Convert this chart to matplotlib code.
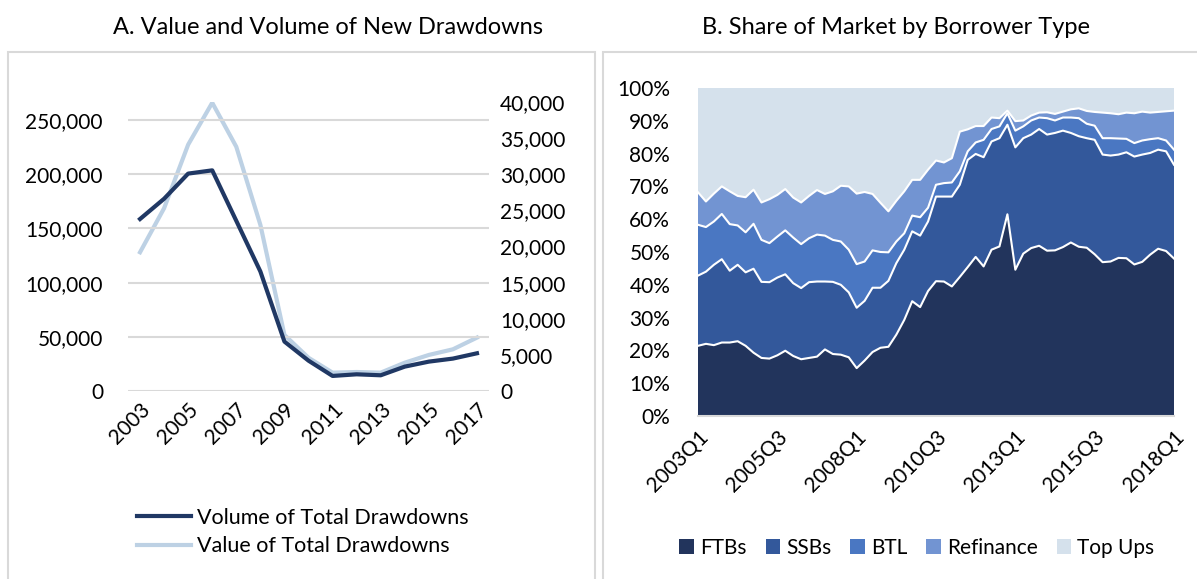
import matplotlib
matplotlib.use("Agg")
import matplotlib.pyplot as plt
import matplotlib.ticker as mticker
from matplotlib.patches import Rectangle
from matplotlib.lines import Line2D
import numpy as np

plt.rcParams["font.family"] = ["Lato", "DejaVu Sans"]

# Panel A : drawdowns par année
years = list(range(2003, 2018))
volume = [158700, 177400, 200600, 203600, 157000, 110300, 45600, 28000,
          13900, 15400, 14500, 22500, 27100, 29900, 34800]
value = [19200, 25300, 34100, 39900, 33800, 23000, 7760, 4600,
         2540, 2630, 2540, 3920, 4990, 5770, 7390]

# Panel B : parts de marché trimestrielles (2003Q1 - 2018Q1)
quarters = [f"{y}Q{q}" for y in range(2003, 2019) for q in range(1, 5)][:61]
ftb = [21.4, 22.0, 21.6, 22.4, 22.4, 22.8, 21.4, 19.3, 17.7, 17.5, 18.5, 19.9, 18.3, 17.3, 17.7, 18.1,
       20.3, 18.9, 18.7, 17.9, 14.6, 16.9, 19.5, 20.8, 21.1, 24.8, 29.3, 35.0, 33.2, 38.1, 41.1, 41.0,
       39.5, 42.4, 45.4, 48.5, 45.6, 50.7, 51.7, 61.5, 44.6, 49.5, 51.2, 51.9, 50.4, 50.5, 51.5, 52.9,
       51.6, 51.3, 49.3, 46.9, 47.1, 48.2, 48.1, 46.2, 47.0, 49.2, 51.0, 50.3, 48.0]
ssb = [21.4, 22.0, 24.5, 25.4, 21.9, 23.3, 22.4, 25.6, 23.2, 23.3, 23.7, 23.3, 22.2, 21.7, 23.1, 22.9,
       20.7, 22.0, 21.3, 19.8, 18.4, 18.2, 19.6, 18.3, 20.1, 21.8, 21.4, 21.3, 21.8, 21.2, 25.8, 25.9,
       27.4, 28.1, 32.7, 31.4, 33.3, 33.0, 33.0, 27.3, 37.3, 35.2, 34.6, 35.6, 35.4, 35.8, 35.5, 33.4,
       33.7, 33.4, 34.9, 32.8, 32.3, 31.5, 32.3, 32.9, 32.7, 31.0, 30.2, 30.4, 28.6]
btl = [15.5, 13.6, 13.2, 13.8, 14.2, 12.0, 12.2, 13.7, 12.8, 11.9, 12.5, 13.4, 13.9, 13.4, 13.4, 14.3,
       14.0, 12.8, 13.2, 13.0, 13.3, 12.0, 11.4, 10.9, 8.7, 6.6, 5.0, 4.8, 5.6, 4.2, 3.6, 4.1,
       4.3, 4.1, 2.6, 3.5, 5.3, 3.8, 3.6, 3.5, 5.1, 3.6, 4.3, 3.5, 5.0, 3.8, 4.0, 4.7,
       5.5, 4.4, 4.3, 5.0, 5.3, 4.9, 4.1, 4.1, 4.3, 4.2, 3.5, 3.3, 4.6]
refinance = [9.9, 7.8, 8.5, 8.4, 10.0, 9.0, 10.7, 10.4, 11.4, 13.4, 12.7, 12.6, 12.2, 12.7, 12.9, 13.6,
             12.7, 14.8, 17.0, 19.3, 21.5, 21.2, 17.2, 15.0, 12.5, 12.4, 12.8, 10.9, 11.4, 11.6, 7.4, 6.3,
             7.4, 12.1, 6.7, 5.0, 4.2, 3.5, 2.5, 0.8, 2.9, 1.8, 1.5, 1.5, 1.8, 2.0, 1.8, 2.5,
             3.0, 3.9, 4.2, 7.8, 7.6, 7.4, 8.0, 9.1, 8.8, 8.1, 8.0, 8.9, 11.9]
top_ups = [31.8, 34.6, 32.2, 30.0, 31.5, 32.9, 33.3, 31.0, 34.9, 33.9, 32.6, 30.8, 33.4, 34.9, 32.9, 31.1,
           32.3, 31.5, 29.8, 30.0, 32.2, 31.7, 32.3, 35.0, 37.6, 34.4, 31.5, 28.0, 28.0, 24.9, 22.1, 22.7,
           21.4, 13.3, 12.6, 11.6, 11.6, 9.0, 9.2, 6.9, 10.1, 9.9, 8.4, 7.5, 7.4, 7.9, 7.2, 6.5,
           6.2, 7.0, 7.3, 7.5, 7.7, 8.0, 7.5, 7.7, 7.2, 7.5, 7.3, 7.1, 6.9]

series_names = ["FTBs", "SSBs", "BTL", "Refinance", "Top Ups"]
series_colors = ["#22345c", "#33589b", "#4a77c2", "#7294d2", "#d5e1ec"]

fig = plt.figure(figsize=(11.97, 5.79), dpi=100, facecolor="white")

# Cadres des deux panneaux
for x0, w in [(8, 587), (603, 600)]:
    fig.patches.append(Rectangle((x0 / 1197, -0.01), w / 1197, (579 - 52) / 579 + 0.01,
                                 transform=fig.transFigure, fill=False,
                                 edgecolor="#d9d9d9", linewidth=1.5))

fig.text(328 / 1197, 1 - 28 / 579, "A. Value and Volume of New Drawdowns",
         ha="center", va="center", fontsize=17)
fig.text(896 / 1197, 1 - 28 / 579, "B. Share of Market by Borrower Type",
         ha="center", va="center", fontsize=17)

# Panel A
ax = fig.add_axes([128 / 1197, 188 / 579, 361 / 1197, 289 / 579])
ax2 = ax.twinx()
ax.plot(years, volume, color="#203864", linewidth=3, zorder=3)
ax2.plot(years, value, color="#bdd1e4", linewidth=3, zorder=2)
ax.set_zorder(ax2.get_zorder() + 1)
ax.patch.set_visible(False)
ax.set_xlim(2002.5, 2017.5)
ax.set_ylim(0, 266667)
ax2.set_ylim(0, 40000)
ax.set_yticks(range(0, 250001, 50000))
ax2.set_yticks(range(0, 40001, 5000))
fmt = mticker.FuncFormatter(lambda v, _: f"{int(v):,}")
ax.yaxis.set_major_formatter(fmt)
ax2.yaxis.set_major_formatter(fmt)
ax.set_xticks(years[::2])
ax.set_xticklabels([str(y) for y in years[::2]], rotation=45, ha="right",
                   rotation_mode="anchor", fontsize=15)
ax.grid(axis="y", color="#d9d9d9", linewidth=1.5)
ax.set_axisbelow(True)
for a in (ax, ax2):
    for s in a.spines.values():
        s.set_visible(False)
    a.tick_params(length=0, labelsize=15)
ax.tick_params(axis="y", pad=18)
ax2.tick_params(axis="y", pad=8)
ax.tick_params(axis="x", pad=6)

handles = [Line2D([], [], color="#203864", linewidth=3),
           Line2D([], [], color="#bdd1e4", linewidth=3)]
fig.legend(handles, ["Volume of Total Drawdowns", "Value of Total Drawdowns"],
           loc="center left", bbox_to_anchor=(118 / 1197, 1 - 532 / 579),
           frameon=False, fontsize=15.5, handlelength=2.5, labelspacing=0.4,
           handletextpad=0.25)

# Panel B
bx = fig.add_axes([698 / 1197, 163 / 579, 476 / 1197, 328 / 579])
xq = np.arange(len(quarters))
layers = [ftb, ssb, btl, refinance, top_ups]
bx.stackplot(xq, *layers, colors=series_colors, labels=series_names, linewidth=0)
cum = np.cumsum(np.array(layers[:-1]), axis=0)
for c in cum:
    bx.plot(xq, c, color="white", linewidth=1.5)
bx.set_xlim(0, len(quarters) - 1)
bx.set_ylim(0, 100)
bx.set_yticks(range(0, 101, 10))
bx.yaxis.set_major_formatter(mticker.FuncFormatter(lambda v, _: f"{int(v)}%"))
bx.set_xticks(xq[::10])
bx.set_xticklabels(quarters[::10], rotation=45, ha="right", rotation_mode="anchor",
                   fontsize=15)
for name, s in bx.spines.items():
    s.set_visible(name == "bottom")
bx.spines["bottom"].set_color("#d9d9d9")
bx.spines["bottom"].set_linewidth(1.5)
bx.tick_params(length=0, labelsize=15)
bx.tick_params(axis="y", pad=20)
bx.tick_params(axis="x", pad=8)

fig.legend(*bx.get_legend_handles_labels(), loc="center",
           bbox_to_anchor=(917 / 1197, 1 - 548 / 579), ncol=5, frameon=False,
           fontsize=15, handlelength=0.7, handleheight=0.7, handletextpad=0.3,
           columnspacing=0.9)

fig.savefig("out.png", dpi=100, facecolor="white")
